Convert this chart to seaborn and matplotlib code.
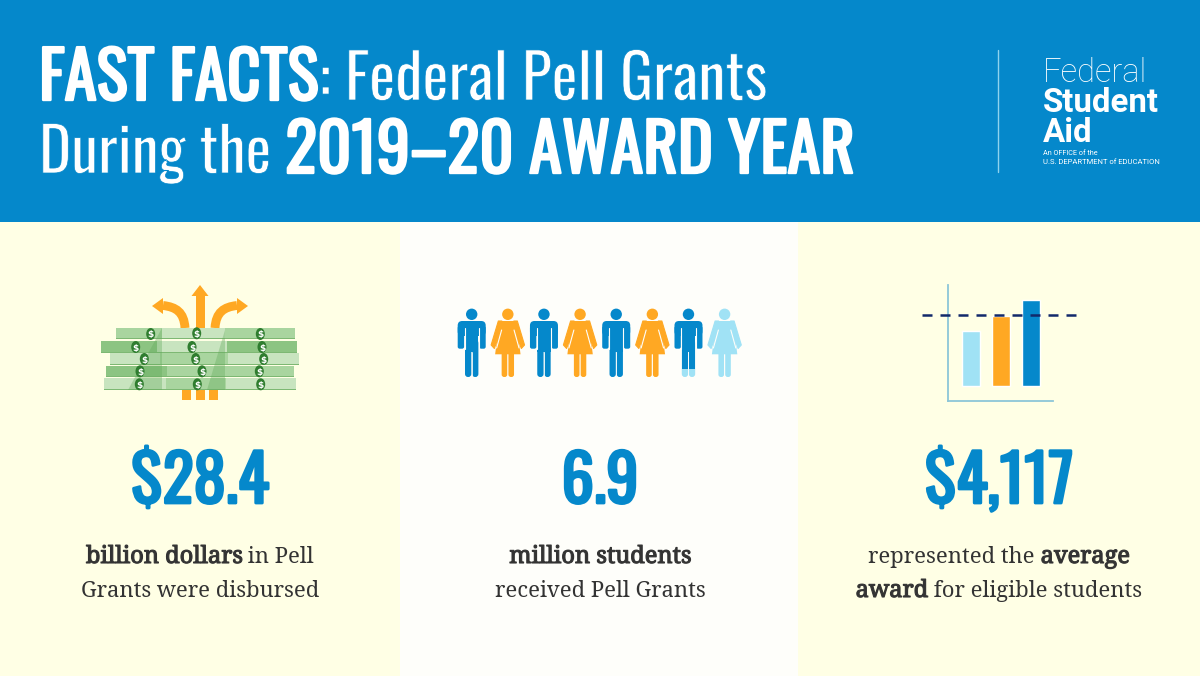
import matplotlib
matplotlib.use("Agg")
import matplotlib.pyplot as plt
from matplotlib.patches import Rectangle, Circle, Ellipse, Polygon, FancyBboxPatch, PathPatch
from matplotlib.path import Path
import matplotlib.patheffects as pe
import pandas as pd
import seaborn as sns

# values
stat_values = ["$28.4", "6.9", "$4,117"]
stat_lines = [
    [[("billion dollars", True), (" in Pell", False)], [("Grants were disbursed", False)]],
    [[("million students", True)], [("received Pell Grants", False)]],
    [[("represented the ", False), ("average", True)], [("award", True), (" for eligible students", False)]],
]
people_kinds = ["man", "woman", "man", "woman", "man", "woman", "man", "woman"]
people_colors = ["blue", "orange", "blue", "orange", "blue", "orange", "blue", "light"]
bar_names = ["low", "mid", "high"]
bar_heights = [55, 70, 86]
bar_average = 71.5

BLUE = "#0588CB"
ORANGE = "#FFA823"
LIGHT = "#A0E2F5"
SIDE = "#FFFFE5"
MIDDLE = "#FEFEFA"
NAVY = "#12296B"
TEXT = "#333333"
COND = ["Oswald", "Liberation Sans"]
SERIF = ["Noto Serif", "DejaVu Serif"]
color_of = {"blue": BLUE, "orange": ORANGE, "light": LIGHT}

sns.set_theme(style="white")
fig = plt.figure(figsize=(12, 6.76), dpi=100)
ax = fig.add_axes([0, 0, 1, 1])
ax.set_xlim(0, 1200)
ax.set_ylim(676, 0)
ax.axis("off")
renderer = fig.canvas.get_renderer()


def rect(x0, y0, x1, y1, color, z=1, alpha=None):
    ax.add_patch(Rectangle((x0, y0), x1 - x0, y1 - y0, fc=color, ec="none", zorder=z, alpha=alpha))


def rrect(x0, y0, x1, y1, r, color, z=3):
    ax.add_patch(FancyBboxPatch((x0 + r, y0 + r), x1 - x0 - 2 * r, y1 - y0 - 2 * r,
                                boxstyle=f"round,pad={r}", fc=color, ec="none", zorder=z))


def runs(x, y, parts, color, family, center=False):
    # text pieces one after the other on a baseline: (string, size, outline width, outline colour)
    items = []
    for s, size, lw, edge in parts:
        t = ax.text(x, y, s.replace(" ", "\u00a0"), fontsize=size, color=color, family=family,
                    va="baseline", ha="left", zorder=6)
        if lw:
            t.set_path_effects([pe.Stroke(linewidth=lw, foreground=edge)])
        items.append(t)
    widths = [t.get_window_extent(renderer).width for t in items]
    if center:
        x -= sum(widths) / 2
    for t, w in zip(items, widths):
        t.set_x(x)
        x += w


# backgrounds
rect(0, 0, 1200, 222, BLUE)
rect(0, 222, 400, 676, SIDE)
rect(400, 222, 798, 676, MIDDLE)
rect(798, 222, 1200, 676, SIDE)

# header, the variable font has one weight so outlines make it heavier or thinner
runs(39, 100, [("FAST FACTS", 47, 1.7, "white"), (": Federal Pell Grants", 44.5, 0.5, BLUE)], "white", COND)
runs(39, 173, [("During the ", 44, 0.5, BLUE), ("2019–20 AWARD YEAR", 48, 1.7, "white")], "white", COND)
ax.plot([998, 998], [50, 172], color="#8FD3EE", lw=1, zorder=5)
ax.text(1043, 82, "Federal", fontsize=23.5, color="white", family="Roboto", weight="light", zorder=6)
ax.text(1043, 112, "Student", fontsize=23.8, color="white", family="Roboto", weight="bold", zorder=6)
ax.text(1043, 142, "Aid", fontsize=23.8, color="white", family="Roboto", weight="bold", zorder=6)
ax.text(1043, 155, "An OFFICE of the", fontsize=5.2, color="white", family="Roboto", zorder=6)
ax.text(1043, 164, "U.S. DEPARTMENT of EDUCATION", fontsize=5.5, color="white", family="Roboto", zorder=6)

# stats
for cx, value, lines in zip([200, 600, 999], stat_values, stat_lines):
    t = ax.text(cx, 503, value, fontsize=46.5, color=BLUE, family=COND, ha="center", va="baseline", zorder=6)
    t.set_path_effects([pe.Stroke(linewidth=2, foreground=BLUE)])
    for y, line in zip([563, 597], lines):
        parts = [(s, 17 if b else 15.8, 0.8 if b else 0, TEXT) for s, b in line]
        runs(cx, y, parts, TEXT, SERIF, center=True)

# money icon
G1, G2, G3 = "#C8E4BF", "#A9D59F", "#8CC482"
bills = [
    (116, 328, 295, 339, [(116, 162, G2), (162, 225, G1), (225, 295, G2)]),
    (101, 341, 297, 353, [(101, 157, G3), (157, 227, G1), (227, 297, G3)]),
    (110, 353, 299, 365, [(110, 160, G1), (160, 228, G2), (228, 299, G1)]),
    (106, 366, 294, 377, [(106, 167, G3), (167, 207, G2), (207, 294, G2)]),
    (104, 378, 296, 390, [(104, 166, G1), (166, 226, G2), (226, 296, G1)]),
]
for x0, y0, x1, y1, parts in bills:
    for a, b, c in parts:
        rect(a, y0, b, y1, c, z=2)
    rect(x0, y1 - 1.2, x1, y1, "#7DB873", z=2)
for pts in ([(128, 390), (162, 328), (162, 390)], [(207, 390), (225, 330), (225, 390)]):
    ax.add_patch(Polygon(pts, fc="#5FA858", ec="none", alpha=0.35, zorder=3))
coins = [(150.7, 334), (196.7, 333.3), (260.3, 334), (135.7, 347), (192, 347), (262, 347),
         (144.3, 359), (195.7, 359), (263.7, 359), (140, 371.3), (202, 371.3), (259.3, 371.3),
         (139.3, 384.3), (197.3, 384.3), (260.7, 384.3)]
for cx, cy in coins:
    ax.add_patch(Ellipse((cx, cy), 9, 12, fc="#2F7D2F", ec="none", zorder=4))
    ax.text(cx, cy, "$", fontsize=6.5, color="white", family="DejaVu Sans", weight="bold",
            ha="center", va="center_baseline", zorder=5)

# arrows around the money
for x0 in (182, 196, 209):
    rect(x0, 390, x0 + 8.5, 400, ORANGE, z=1.5)
rect(196, 296, 204.5, 328, ORANGE, z=1.5)
ax.add_patch(Polygon([(191.5, 296), (200, 285), (208.5, 296)], fc=ORANGE, ec="none", zorder=1.5))
for side in (-1, 1):
    x = lambda d: 200 + side * d
    stroke = Path([(x(15), 328), (x(16), 312), (x(24), 307), (x(37), 305.5)],
                  [Path.MOVETO, Path.CURVE4, Path.CURVE4, Path.CURVE4])
    ax.add_patch(PathPatch(stroke, fc="none", ec=ORANGE, lw=6.4, capstyle="butt", zorder=1.5))
    ax.add_patch(Polygon([(x(37), 298), (x(48), 306), (x(37), 314)], fc=ORANGE, ec="none", zorder=1.5))


# people icon
def man(cx, color, foot=None):
    ax.add_patch(Circle((cx, 314.3), 5.7, fc=color, ec="none", zorder=3))
    rrect(cx - 14, 321, cx + 14, 336, 4.5, color)
    for s in (-1, 1):
        a, b = sorted((cx + s * 7.6, cx + s * 14))
        rrect(a, 326, b, 348.7, 2, color)
        a, b = sorted((cx + s * 0.4, cx + s * 6.7))
        rrect(a, 340, b, 377, 3, foot if foot else color)
        if foot:
            rect(a, 340, b, 369, color, z=3.1)
    rect(cx - 6.7, 325, cx + 6.7, 352, color, z=3)
    for s in (-1, 1):
        ax.plot([cx + s * 7.1] * 2, [328, 349], color=MIDDLE, lw=0.8, zorder=3.2)
    ax.plot([cx, cx], [352, 377], color=MIDDLE, lw=0.6, zorder=3.2)


def woman(cx, color):
    ax.add_patch(Circle((cx, 314.3), 5.7, fc=color, ec="none", zorder=3))
    ax.add_patch(Polygon([(cx - 8.5, 321), (cx + 8.5, 321), (cx + 12.7, 354.3), (cx - 12.7, 354.3)],
                         fc=color, ec="none", zorder=3))
    for s in (-1, 1):
        ax.add_patch(Polygon([(cx + s * 6, 321), (cx + s * 9.5, 321), (cx + s * 16.7, 345),
                              (cx + s * 13.5, 348.5), (cx + s * 7, 330)],
                             fc=color, ec=color, lw=0.8, joinstyle="round", zorder=3))
        ax.plot([cx + s * 6.2, cx + s * 11.2], [330, 348], color=MIDDLE, lw=0.8, zorder=3.2)
        a, b = sorted((cx + s * 0.6, cx + s * 6.2))
        rrect(a, 350, b, 377, 2.5, color)


for i, (kind, col) in enumerate(zip(people_kinds, people_colors)):
    cx = 471.7 + i * 36.13
    if kind == "man":
        man(cx, color_of[col], foot=LIGHT if i == 6 else None)
    else:
        woman(cx, color_of[col])

# bar icon, a small seaborn chart of its own
bar_df = pd.DataFrame({"name": bar_names, "height": bar_heights})
inset = fig.add_axes([948 / 1200, 1 - 401 / 676, 105 / 1200, 116 / 676], facecolor="none")
sns.barplot(data=bar_df, x="name", y="height", hue="name", palette=[LIGHT, ORANGE, BLUE],
            width=0.6, saturation=1, legend=False, ax=inset)
inset.set_xlim(-0.767, 2.733)
inset.set_ylim(-15, 101)
inset.plot([-1.63, 3.53], [bar_average, bar_average], color=NAVY, lw=1.8, dashes=(4, 3.2),
           clip_on=False, zorder=5)
inset.set_xticks([])
inset.set_yticks([])
inset.set_xlabel("")
inset.set_ylabel("")
sns.despine(ax=inset)
for name in ("left", "bottom"):
    inset.spines[name].set_color("#8CC6D8")
    inset.spines[name].set_linewidth(1.3)

fig.savefig("out.png", dpi=100)
